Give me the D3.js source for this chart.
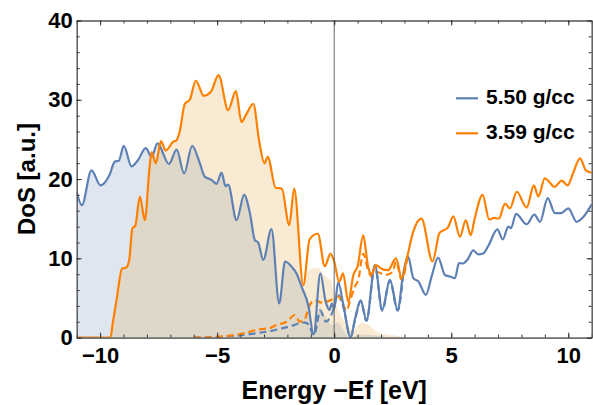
<!DOCTYPE html>
<html>
<head>
<meta charset="utf-8">
<script src="https://cdn.jsdelivr.net/npm/d3@7"></script>
<style>
body { margin: 0; background: #fff; }
text { font-family: "Liberation Sans", Arial, sans-serif; font-weight: bold; }
</style>
</head>
<body>
<script>
// 5.50 g/cc total DoS
var e550 = [-11, -10.78, -10.37, -9.98, -9.6, -9.37, -9.2, -8.99, -8.66, -8.38, -8.05, -7.8, -7.55, -7.06, -6.73, -6.41, -6.07, -5.74, -5.53, -5.24, -5.03, -4.81, -4.64, -4.53, -4.17, -3.85, -3.6, -3.39, -3.25, -3.03, -2.68, -2.35, -2.1, -1.82, -1.61, -1.39, -1.11, -0.88, -0.59, -0.37, -0.2, -0.1, 0.0, 0.17, 0.38, 0.7, 0.9, 1.13, 1.38, 1.74, 2.05, 2.38, 2.71, 2.95, 3.16, 3.38, 3.59, 3.92, 4.16, 4.44, 4.73, 4.95, 5.16, 5.33, 5.5, 5.7, 5.94, 6.15, 6.36, 6.58, 6.97, 7.2, 7.44, 7.55, 7.77, 8.22, 8.55, 8.79, 9.12, 9.43, 9.69, 10.0, 10.36, 10.64, 11];
var dos550 = [18.4, 16.7, 21.1, 19.2, 20.5, 22.2, 22.3, 24.2, 21.6, 22.4, 23.9, 22.8, 24.5, 21.9, 23.7, 20.7, 24.2, 22.0, 20.3, 19.9, 19.4, 20.8, 19.1, 19.3, 14.8, 18.0, 15.7, 12.3, 12.0, 9.8, 13.7, 4.3, 9.6, 8.95, 8.1, 6.4, 4.1, 0.4, 8.1, 4.6, 3.5, 4.3, 3.6, 7.0, 4.3, 0.05, 2.5, 4.7, 2.2, 9.15, 3.5, 7.3, 3.5, 8.1, 10.2, 7.5, 7.1, 5.4, 7.7, 10.1, 7.9, 7.7, 7.5, 9.4, 9.35, 9.85, 11.0, 10.5, 10.6, 11.55, 13.65, 12.4, 14.0, 13.8, 15.6, 14.3, 15.5, 14.6, 17.6, 15.7, 15.7, 16.3, 14.6, 15.2, 16.8];

// 3.59 g/cc total DoS
var e359 = [-11, -9.56, -9.45, -9.3, -9.06, -8.9, -8.76, -8.62, -8.5, -8.3, -8.09, -7.9, -7.8, -7.62, -7.4, -7.2, -6.88, -6.73, -6.6, -6.38, -6.17, -5.91, -5.57, -5.27, -4.94, -4.53, -4.2, -3.96, -3.75, -3.46, -3.2, -2.98, -2.84, -2.5, -2.24, -1.92, -1.71, -1.32, -1.05, -0.7, -0.4, -0.16, 0.0, 0.21, 0.38, 0.6, 0.82, 1.0, 1.24, 1.45, 1.6, 1.78, 2.02, 2.3, 2.64, 2.88, 3.12, 3.38, 3.73, 4.2, 4.5, 4.86, 5.09, 5.37, 5.62, 5.83, 6.0, 6.34, 6.62, 6.83, 7.03, 7.3, 7.51, 7.8, 8.22, 8.53, 8.72, 9.0, 9.2, 9.4, 9.72, 9.97, 10.2, 10.5, 10.75, 11];
var dos359 = [0, 0, 2.0, 4.7, 8.7, 8.8, 9.7, 13.8, 14.1, 17.8, 14.8, 21.1, 23.4, 22.0, 24.8, 23.6, 24.7, 24.9, 26.0, 29.5, 30.0, 32.4, 30.5, 31.0, 33.1, 28.7, 31.1, 27.2, 28.2, 29.5, 24.7, 22.0, 22.8, 18.9, 18.8, 14.2, 18.8, 6.6, 12.4, 13.1, 9.0, 10.6, 9.6, 7.05, 8.1, 4.5, 7.9, 9.0, 12.9, 8.9, 8.0, 9.15, 8.7, 8.5, 10.0, 7.5, 10.2, 13.4, 15.0, 9.6, 13.2, 13.9, 15.3, 12.7, 14.8, 12.9, 15.0, 18.0, 14.9, 15.1, 15.0, 16.9, 16.3, 18.4, 16.4, 19.2, 17.8, 20.1, 19.6, 19.0, 19.8, 19.2, 20.7, 22.6, 21.1, 20.8];

// unoccupied part (dashed)
var eEmpty550 = [-6, -5, -4, -3.2, -2.6, -2.2, -1.8, -1.5, -1.25, -1.05, -0.9, -0.8, -0.6, -0.35, -0.1, 0.17, 0.38, 0.7, 0.9, 1.13, 1.38, 1.74, 2.05, 2.38, 2.71, 2.95];
var empty550 = [0, 0.05, 0.3, 0.6, 0.9, 1.2, 1.5, 1.8, 1.9, 1.5, 0.3, 0.8, 3.4, 2.0, 3.0, 5.4, 4.0, 0.05, 2.4, 4.6, 2.1, 9.0, 3.4, 7.2, 3.4, 8.0];
var eEmpty359 = [-6, -5, -4, -3.17, -2.75, -2.46, -2.03, -1.68, -1.47, -1.25, -1.11, -0.82, -0.54, -0.26, -0.04, 0.17, 0.38, 0.53, 0.67, 0.88, 1.03, 1.24, 1.45, 1.6, 1.8, 2.2, 2.5, 2.64, 2.88, 3.12];
var empty359 = [0, 0.1, 0.45, 1.05, 1.2, 1.6, 2.0, 2.85, 2.0, 2.3, 3.7, 4.7, 4.4, 4.6, 4.9, 5.2, 4.1, 3.4, 4.6, 6.4, 7.3, 10.6, 8.5, 7.7, 8.3, 7.9, 8.3, 9.6, 7.3, 10.0];

// occupied part near Ef (filled), below that the fill follows the total DoS
var eFill550 = [-1.61, -1.39, -1.11, -0.9, -0.75, -0.6, -0.35, -0.1, 0.17, 0.4, 0.7, 1.1, 1.7, 2.5, 3.5];
var fill550 = [7.9, 6.1, 3.6, 0.3, 2.4, 3.8, 2.6, 1.6, 1.9, 0.9, 0, 0.4, 0.3, 0.05, 0];
var eFill359 = [-1.71, -1.5, -1.32, -1.1, -0.7, -0.4, -0.15, 0.05, 0.25, 0.55, 0.8, 1.2, 1.5, 1.9, 2.5, 3.2, 4];
var fill359 = [18.3, 12, 6.2, 8.5, 8.8, 7.8, 7.2, 4.6, 3.0, 1.6, 1.0, 1.9, 1.5, 0.6, 0.3, 0.05, 0];

var labels = ["5.50 g/cc", "3.59 g/cc"];
var colors = ["#5e81b5", "#ff8000"];
var fillColors = ["#5e81b5", "#e19c24"];
var xMajor = [-10, -5, 0, 5, 10];
var yMajor = [0, 10, 20, 30, 40];

var width = 593, height = 405;
var svg = d3.select("body").append("svg")
    .attr("width", width)
    .attr("height", height);

var x = d3.scaleLinear().domain([-11, 11]).range([76.7, 591.7]);
var y = d3.scaleLinear().domain([0, 40]).range([337.6, 20.5]);

function zip(es, ds) {
    return es.map(function (e, i) { return [e, ds[i]]; });
}
// total DoS below the tail start, then the read tail
function fillPts(es, ds, te, td) {
    var p = zip(es, ds).filter(function (d) { return d[0] < te[0]; });
    return p.concat(zip(te, td));
}

svg.append("clipPath").attr("id", "clip")
    .append("rect")
    .attr("x", x(-11)).attr("y", y(40))
    .attr("width", x(11) - x(-11)).attr("height", y(0) - y(40));

var plot = svg.append("g").attr("clip-path", "url(#clip)");

var line = d3.line()
    .x(function (d) { return x(d[0]); })
    .y(function (d) { return y(d[1]); })
    .curve(d3.curveMonotoneX);
var area = d3.area()
    .x(function (d) { return x(d[0]); })
    .y0(y(0))
    .y1(function (d) { return y(d[1]); })
    .curve(d3.curveMonotoneX);

var fills = [fillPts(e550, dos550, eFill550, fill550), fillPts(e359, dos359, eFill359, fill359)];
var totals = [zip(e550, dos550), zip(e359, dos359)];
var empties = [zip(eEmpty550, empty550), zip(eEmpty359, empty359)];

plot.selectAll(".fill")
    .data(fills)
    .enter().append("path")
    .attr("class", "fill")
    .attr("d", area)
    .attr("fill", function (d, i) { return fillColors[i]; })
    .attr("fill-opacity", 0.2);

// Fermi level
svg.append("line")
    .attr("x1", x(0)).attr("x2", x(0))
    .attr("y1", y(40)).attr("y2", y(0))
    .attr("stroke", "#666")
    .attr("stroke-width", 1);

plot.selectAll(".empty")
    .data(empties)
    .enter().append("path")
    .attr("class", "empty")
    .attr("d", line)
    .attr("fill", "none")
    .attr("stroke", function (d, i) { return colors[i]; })
    .attr("stroke-width", 2.2)
    .attr("stroke-dasharray", "7,4");

plot.selectAll(".total")
    .data(totals)
    .enter().append("path")
    .attr("class", "total")
    .attr("d", line)
    .attr("fill", "none")
    .attr("stroke", function (d, i) { return colors[i]; })
    .attr("stroke-width", 2.2);

// frame with inward ticks
function styleAxis(g) {
    g.attr("font-family", null).attr("font-size", 22);
    g.select(".domain").attr("stroke", "#555");
    g.selectAll(".tick line").attr("stroke", "#333");
    g.selectAll("text").attr("fill", "#000");
}
var xMinor = d3.range(-11, 12, 1), yMinor = d3.range(0, 41, 2);

svg.append("g").attr("transform", "translate(0," + y(0) + ")")
    .call(d3.axisBottom(x).tickValues(xMinor).tickSize(-3).tickSizeOuter(0).tickFormat(""))
    .call(styleAxis);
svg.append("g").attr("transform", "translate(0," + y(0) + ")")
    .call(d3.axisBottom(x).tickValues(xMajor).tickSize(-5).tickSizeOuter(0).tickPadding(10))
    .call(styleAxis);
svg.append("g").attr("transform", "translate(0," + y(40) + ")")
    .call(d3.axisTop(x).tickValues(xMinor).tickSize(-3).tickSizeOuter(0).tickFormat(""))
    .call(styleAxis);
svg.append("g").attr("transform", "translate(0," + y(40) + ")")
    .call(d3.axisTop(x).tickValues(xMajor).tickSize(-5).tickSizeOuter(0).tickFormat(""))
    .call(styleAxis);
svg.append("g").attr("transform", "translate(" + x(-11) + ",0)")
    .call(d3.axisLeft(y).tickValues(yMinor).tickSize(-3).tickSizeOuter(0).tickFormat(""))
    .call(styleAxis);
svg.append("g").attr("transform", "translate(" + x(-11) + ",0)")
    .call(d3.axisLeft(y).tickValues(yMajor).tickSize(-5).tickSizeOuter(0).tickPadding(4))
    .call(styleAxis);
svg.append("g").attr("transform", "translate(" + x(11) + ",0)")
    .call(d3.axisRight(y).tickValues(yMinor).tickSize(-3).tickSizeOuter(0).tickFormat(""))
    .call(styleAxis);
svg.append("g").attr("transform", "translate(" + x(11) + ",0)")
    .call(d3.axisRight(y).tickValues(yMajor).tickSize(-5).tickSizeOuter(0).tickFormat(""))
    .call(styleAxis);

// axis titles
svg.append("text")
    .attr("x", x(0)).attr("y", 399)
    .attr("text-anchor", "middle")
    .attr("font-size", 25)
    .text("Energy \u2212Ef [eV]");
svg.append("text")
    .attr("transform", "translate(35," + y(20) + ") rotate(-90)")
    .attr("text-anchor", "middle")
    .attr("font-size", 24)
    .text("DoS [a.u.]");

// legend
var legend = svg.append("g").selectAll("g")
    .data(labels)
    .enter().append("g")
    .attr("transform", function (d, i) { return "translate(456," + (98.3 + i * 35) + ")"; });
legend.append("line")
    .attr("x1", 0).attr("x2", 22)
    .attr("stroke", function (d, i) { return colors[i]; })
    .attr("stroke-width", 2.2);
legend.append("text")
    .attr("x", 30).attr("y", 6)
    .attr("font-size", 21)
    .text(function (d) { return d; });
</script>
</body>
</html>
